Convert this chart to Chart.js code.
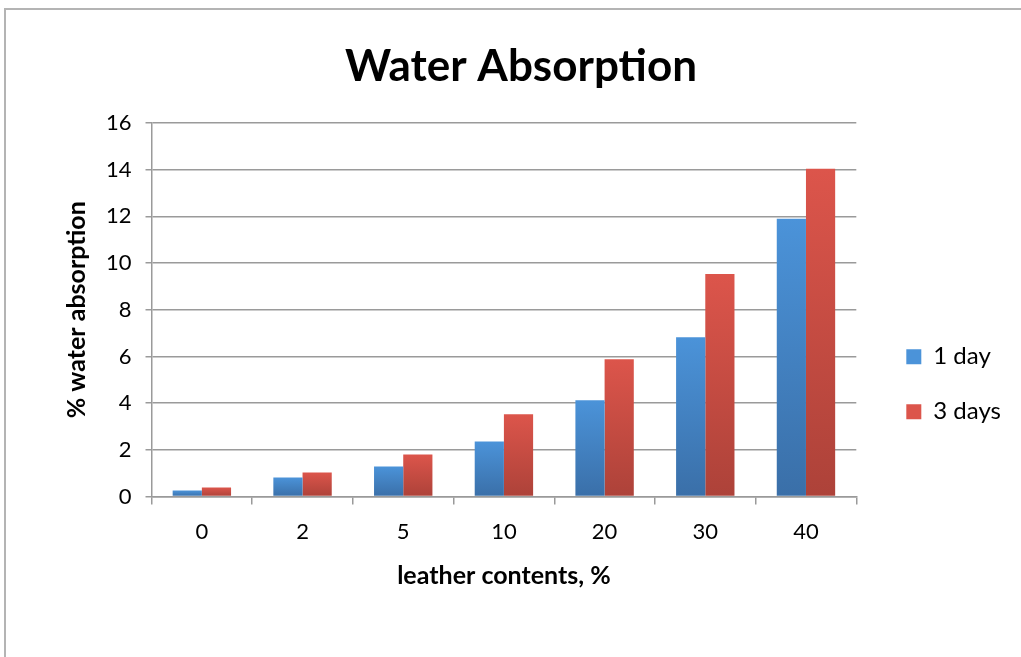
<!DOCTYPE html>
<html>
<head>
<meta charset="utf-8">
<script src="https://cdn.jsdelivr.net/npm/chart.js@4/dist/chart.umd.min.js"></script>
<style>
  html, body { margin: 0; padding: 0; background: #fff; overflow: hidden; }
  #frame {
    position: absolute; left: 4px; top: 8px; width: 1100px; height: 700px;
    border: 2px solid #b4b4b4; box-sizing: border-box;
  }
  #wrap { position: absolute; left: 0; top: 0; width: 1021px; height: 657px; }
</style>
</head>
<body>
<div id="frame"></div>
<div id="wrap"><canvas id="chartCanvas"></canvas></div>
<script>
// data
var categories = ['0', '2', '5', '10', '20', '30', '40'];
var oneDay = [0.26, 0.82, 1.29, 2.36, 4.12, 6.82, 11.89];
var threeDays = [0.39, 1.03, 1.80, 3.52, 5.88, 9.53, 14.03];
var seriesNames = ['1 day', '3 days'];

var fontFamily = 'Lato, "Liberation Sans", sans-serif';

/* Per-bar vertical gradient, light at top and dark at the base */
function barGradient(topColor, bottomColor) {
    return function (context) {
        var chart = context.chart;
        if (!chart.chartArea || context.raw == null) return topColor;
        var yScale = chart.scales.y;
        var yTop = yScale.getPixelForValue(context.raw);
        var yBase = yScale.getPixelForValue(0);
        if (!isFinite(yTop) || !isFinite(yBase) || yTop === yBase) return topColor;
        var g = chart.ctx.createLinearGradient(0, yTop, 0, yBase);
        g.addColorStop(0, topColor);
        g.addColorStop(1, bottomColor);
        return g;
    };
}

var ctx = document.getElementById('chartCanvas').getContext('2d');
var chart = new Chart(ctx, {
    type: 'bar',
    data: {
        labels: categories,
        datasets: [{
            label: seriesNames[0],
            data: oneDay,
            backgroundColor: barGradient('#4b93d9', '#3a6fa8'),
            borderWidth: 0
        }, {
            label: seriesNames[1],
            data: threeDays,
            backgroundColor: barGradient('#dc554b', '#ad4239'),
            borderWidth: 0
        }]
    },
    options: {
        responsive: true,
        maintainAspectRatio: false,
        animation: false,
        categoryPercentage: 0.58,
        barPercentage: 1.0,
        layout: {
            padding: { left: 31, right: 10, top: 40, bottom: 66 }
        },
        plugins: {
            title: {
                display: true,
                text: 'Water Absorption',
                color: '#000',
                font: { family: fontFamily, size: 44, weight: 'bold' },
                padding: { top: 0, bottom: 30 }
            },
            legend: {
                position: 'right',
                align: 'center',
                title: { display: true, text: '', padding: { top: 123, bottom: 0 } },
                labels: {
                    boxWidth: 15,
                    boxHeight: 15,
                    padding: 31,
                    color: '#000',
                    font: { family: fontFamily, size: 24 }
                }
            },
            tooltip: { enabled: false }
        },
        scales: {
            x: {
                grid: {
                    display: true,
                    offset: true,
                    drawOnChartArea: false,
                    drawTicks: true,
                    tickLength: 8,
                    color: '#9a9a9a',
                    lineWidth: 1.5
                },
                border: { display: true, color: '#9a9a9a', width: 1.5 },
                ticks: {
                    color: '#000',
                    padding: 14,
                    font: { family: fontFamily, size: 22 }
                },
                title: {
                    display: true,
                    text: 'leather contents, %',
                    color: '#000',
                    padding: { top: 2, bottom: 0 },
                    font: { family: fontFamily, size: 25, weight: 'bold' }
                }
            },
            y: {
                min: 0,
                max: 16,
                ticks: {
                    stepSize: 2,
                    color: '#000',
                    padding: 14,
                    font: { family: fontFamily, size: 22 }
                },
                grid: {
                    color: '#9a9a9a',
                    lineWidth: 1.5,
                    drawTicks: true,
                    tickLength: 6
                },
                border: { display: true, color: '#9a9a9a', width: 1.5 },
                title: {
                    display: true,
                    text: '% water absorption',
                    color: '#000',
                    padding: { top: 31, bottom: 0 },
                    font: { family: fontFamily, size: 25, weight: 'bold' }
                }
            },
            // empty spacer between plot and legend
            spacer: {
                position: 'right',
                display: true,
                grid: { display: false, drawTicks: false },
                border: { display: false },
                ticks: { display: false },
                afterFit: function (scale) { scale.width = 19; }
            }
        }
    }
});
</script>
</body>
</html>
